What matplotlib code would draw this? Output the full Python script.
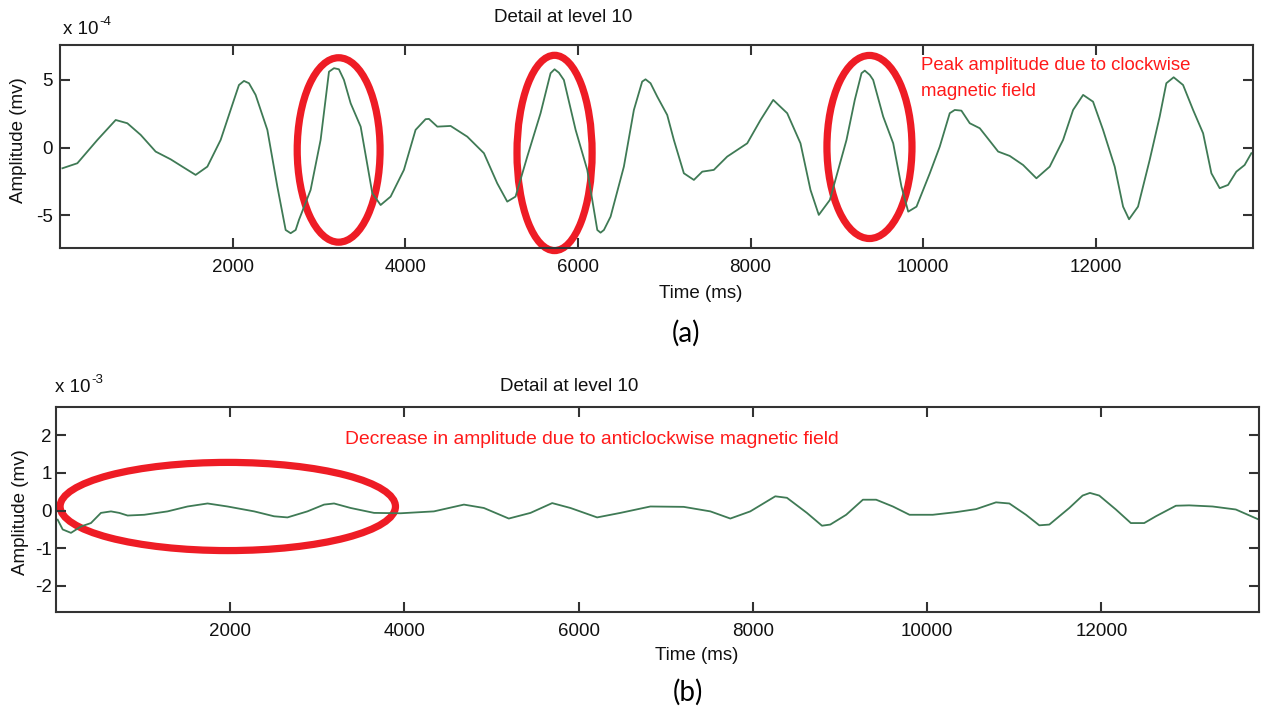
import matplotlib
matplotlib.use("Agg")
import matplotlib.pyplot as plt
from matplotlib.patches import Ellipse

plt.rcParams['font.family'] = ['Liberation Sans', 'DejaVu Sans']
plt.rcParams['axes.unicode_minus'] = False

# ---------------- data: panel (a), amplitude in units of 1e-4 mV ----------------
time_a = [28, 201, 433, 645, 780, 935, 1108, 1282, 1417, 1571, 1707, 1861, 2015, 2073, 2131,
          2189, 2266, 2402, 2518, 2614, 2672, 2730, 2768, 2903, 3019, 3116, 3174, 3231,
          3289, 3367, 3483, 3618, 3714, 3830, 3984, 4119, 4235, 4274, 4371, 4525, 4718,
          4911, 5065, 5181, 5277, 5413, 5567, 5663, 5683, 5729, 5779, 5837, 5973, 6108,
          6185, 6224, 6262, 6301, 6378, 6532, 6648, 6744, 6783, 6841, 6919, 7034, 7111,
          7227, 7343, 7440, 7574, 7729, 7961, 8115, 8262, 8424, 8578, 8694, 8790, 8918,
          9111, 9207, 9285, 9323, 9381, 9420, 9536, 9652, 9748, 9826, 9922, 10076, 10191,
          10307, 10365, 10442, 10539, 10655, 10732, 10868, 11002, 11157, 11311, 11465,
          11620, 11736, 11852, 11967, 12083, 12218, 12315, 12384, 12488, 12623, 12739,
          12816, 12901, 13010, 13126, 13242, 13338, 13434, 13531, 13627, 13723, 13801]
amp_a = [-1.52, -1.15, 0.57, 2.04, 1.80, 0.94, -0.29, -0.86, -1.40, -2.01, -1.40, 0.57,
         3.52, 4.62, 4.92, 4.75, 3.89, 1.31, -2.88, -6.07, -6.31, -6.07, -5.33, -3.12, 0.57,
         5.60, 5.86, 5.78, 5.00, 3.27, 1.55, -3.36, -4.23, -3.61, -1.64, 1.31, 2.10, 2.12,
         1.55, 1.60, 0.81, -0.41, -2.63, -3.98, -3.61, -0.66, 2.54, 4.99, 5.49, 5.78, 5.53,
         4.99, 1.31, -1.64, -4.59, -6.07, -6.27, -6.07, -5.09, -1.40, 2.78, 4.87, 5.04,
         4.75, 3.76, 2.41, 0.57, -1.89, -2.38, -1.77, -1.64, -0.66, 0.32, 2.04, 3.52, 2.54,
         0.32, -3.12, -4.96, -3.86, 0.57, 3.52, 5.49, 5.68, 5.36, 4.99, 2.29, 0.32, -2.88,
         -4.72, -4.35, -1.89, 0.07, 2.54, 2.78, 2.73, 1.80, 1.43, 0.81, -0.29, -0.61, -1.28,
         -2.26, -1.40, 0.57, 2.78, 3.89, 3.39, 1.31, -1.40, -4.35, -5.28, -4.35, -0.91,
         2.29, 4.75, 5.19, 4.62, 2.78, 1.06, -1.89, -2.99, -2.75, -1.77, -1.28, -0.41]

# ---------------- data: panel (b), amplitude in units of 1e-3 mV ----------------
time_b = [19, 77, 172, 287, 401, 516, 631, 726, 822, 1013, 1281, 1510, 1740, 1969, 2275,
          2503, 2657, 2886, 3077, 3192, 3383, 3651, 3956, 4338, 4683, 4912, 5198, 5447,
          5696, 5906, 6212, 6479, 6823, 7206, 7512, 7741, 7970, 8257, 8391, 8620, 8793,
          8888, 9071, 9263, 9415, 9607, 9798, 10065, 10333, 10562, 10791, 10944, 11135,
          11288, 11403, 11632, 11785, 11869, 11976, 12167, 12339, 12492, 12626, 12856,
          13008, 13277, 13544, 13811]
amp_b = [-0.24, -0.50, -0.59, -0.42, -0.33, -0.06, -0.02, -0.06, -0.13, -0.11, -0.02, 0.11,
         0.19, 0.11, -0.02, -0.15, -0.18, -0.02, 0.16, 0.19, 0.07, -0.06, -0.07, -0.02,
         0.16, 0.07, -0.21, -0.06, 0.20, 0.07, -0.18, -0.06, 0.11, 0.10, -0.02, -0.21,
         -0.02, 0.38, 0.34, -0.06, -0.40, -0.37, -0.11, 0.29, 0.29, 0.11, -0.11, -0.11,
         -0.04, 0.04, 0.22, 0.19, -0.11, -0.39, -0.37, 0.07, 0.40, 0.47, 0.40, 0.03,
         -0.33, -0.33, -0.15, 0.13, 0.14, 0.11, 0.03, -0.24]

# annotation ellipses: (centre time, centre amp, width in ms, height in amp units)
ellipses_a = [(3228, -0.17, 960, 13.6), (5729, -0.39, 870, 14.4), (9377, 0.05, 985, 13.5)]
ellipses_b = [(1972, 0.11, 3850, 2.34)]

xticks = [2000, 4000, 6000, 8000, 10000, 12000]
yticks_a = [-5, 0, 5]
yticks_b = [-2, -1, 0, 1, 2]

W, H = 1266, 709
fig = plt.figure(figsize=(W / 100, H / 100), dpi=100)

line_color = '#3f7a55'
red = '#ee1c25'
txt_red = '#ff1a1a'
spine_c = '#333333'
txt_c = '#111111'


def fx(px):
    return px / W


def fy(py):
    return 1 - py / H


def style_axes(ax, ypad):
    for s in ax.spines.values():
        s.set_color(spine_c)
        s.set_linewidth(1.5)
    ax.tick_params(direction='in', length=7, width=1.5, color=spine_c,
                   top=True, right=True, labelsize=13.5, labelcolor=txt_c)
    ax.tick_params(axis='x', pad=8)
    ax.tick_params(axis='y', pad=ypad)


# ---------------- panel (a) ----------------
ax1 = fig.add_axes([fx(60), fy(248), fx(1253) - fx(60), fy(45) - fy(248)])
ax1.plot(time_a, amp_a, color=line_color, lw=1.3, solid_joinstyle='round')
ax1.set_xlim(0, 13820)
ax1.set_ylim(-7.4, 7.57)
ax1.set_xticks(xticks)
ax1.set_yticks(yticks_a)
style_axes(ax1, 5)
for (cx, cy, w, h) in ellipses_a:
    ax1.add_patch(Ellipse((cx, cy), w, h, fill=False, edgecolor=red, lw=5.2, clip_on=False))

fig.text(fx(63), fy(29), 'x 10', fontsize=13.5, va='center', ha='left', color=txt_c)
fig.text(fx(99), fy(22), '-4', fontsize=9.5, va='center', ha='left', color=txt_c)
fig.text(fx(563), fy(17), 'Detail at level 10', fontsize=13.5, ha='center', va='center',
         color=txt_c)
fig.text(fx(19), fy(140), 'Amplitude (mv)', fontsize=13.5, rotation=90, ha='center',
         va='center', color=txt_c)
fig.text(fx(701), fy(294), 'Time (ms)', fontsize=13.5, ha='center', va='center',
         color=txt_c)
fig.text(fx(921), fy(66), 'Peak amplitude due to clockwise', fontsize=13.4, color=txt_red,
         ha='left', va='center')
fig.text(fx(921), fy(92), 'magnetic field', fontsize=13.4, color=txt_red,
         ha='left', va='center')
fig.text(fx(686), fy(333), '(a)', fontsize=20, ha='center', va='center', color='black',
         family=['Lato', 'DejaVu Sans'])

# ---------------- panel (b) ----------------
ax2 = fig.add_axes([fx(56), fy(612), fx(1259) - fx(56), fy(407) - fy(612)])
ax2.plot(time_b, amp_b, color=line_color, lw=1.3, solid_joinstyle='round')
ax2.set_xlim(0, 13810)
ax2.set_ylim(-2.69, 2.75)
ax2.set_xticks(xticks)
ax2.set_yticks(yticks_b)
style_axes(ax2, 3)
for (cx, cy, w, h) in ellipses_b:
    ax2.add_patch(Ellipse((cx, cy), w, h, fill=False, edgecolor=red, lw=5.2, clip_on=False))

fig.text(fx(55), fy(387), 'x 10', fontsize=13.5, va='center', ha='left', color=txt_c)
fig.text(fx(91), fy(380), '-3', fontsize=9.5, va='center', ha='left', color=txt_c)
fig.text(fx(569), fy(386), 'Detail at level 10', fontsize=13.5, ha='center', va='center',
         color=txt_c)
fig.text(fx(21), fy(512), 'Amplitude (mv)', fontsize=13.5, rotation=90, ha='center',
         va='center', color=txt_c)
fig.text(fx(697), fy(656), 'Time (ms)', fontsize=13.5, ha='center', va='center',
         color=txt_c)
fig.text(fx(345), fy(440), 'Decrease in amplitude due to anticlockwise magnetic field',
         fontsize=13.9, color=txt_red, ha='left', va='center')
fig.text(fx(688), fy(692), '(b)', fontsize=20, ha='center', va='center', color='black',
         family=['Lato', 'DejaVu Sans'])

fig.savefig('out.png', dpi=100)
